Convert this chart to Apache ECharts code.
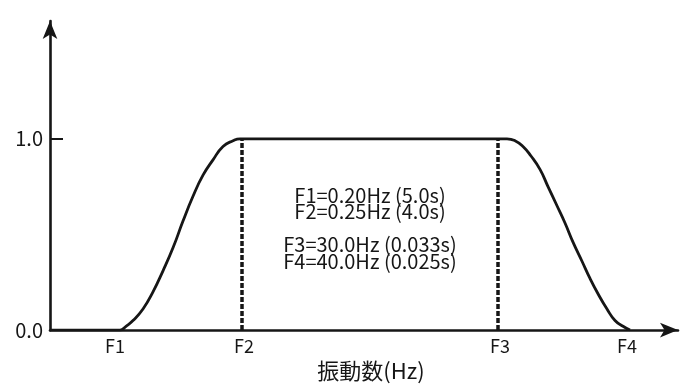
<!DOCTYPE html>
<html>
<head>
<meta charset="utf-8">
<script src="https://cdn.jsdelivr.net/npm/echarts@6/dist/echarts.min.js"></script>
<style>
  html, body { margin: 0; padding: 0; background: #ffffff; }
  #chart { width: 687px; height: 387px; }
</style>
</head>
<body>
<div id="chart"></div>
<script>
// Band-pass window: cosine-like taper from F1 up to F2, flat to F3, taper down to F4.
// Horizontal positions are schematic (frequency axis is not to scale).
const freqPos = [0, 70, 76, 83, 93, 103, 113, 123, 133, 143, 153, 163, 173, 183, 190,
                 457, 465, 473, 481, 490, 498, 507, 515, 523, 532, 540, 548, 557, 565, 573, 580];
const gain    = [0, 0, 0.02, 0.05, 0.11, 0.20, 0.31, 0.43, 0.57, 0.70, 0.81, 0.89, 0.96, 0.99, 1.0,
                 1.0, 0.99, 0.96, 0.91, 0.84, 0.75, 0.65, 0.56, 0.46, 0.36, 0.27, 0.19, 0.11, 0.05, 0.02, 0];

const cornerNames = ['F1', 'F2', 'F3', 'F4'];
const cornerLabelPos = [65, 194, 450, 577];
const guidePos = [192, 448];          // dashed verticals at F2 and F3
const gainTicks = [0, 1];
const noteLines = ['F1=0.20Hz (5.0s)', 'F2=0.25Hz (4.0s)', '', 'F3=30.0Hz (0.033s)', 'F4=40.0Hz (0.025s)'];
const xAxisTitle = '振動数(Hz)';

const ink = '#161616';
const jpFont = "'Noto Sans CJK JP', 'Noto Sans', sans-serif";

const curve = freqPos.map((x, i) => [x, gain[i]]);
const guides = guidePos.map(x => [{ coord: [x, 0] }, { coord: [x, 1] }]);

const chart = echarts.init(document.getElementById('chart'), null, { renderer: 'canvas' });
chart.setOption({
  backgroundColor: '#ffffff',
  animation: false,
  grid: { left: 50, right: 9, top: 21, bottom: 55 },
  xAxis: {
    type: 'value',
    min: 0,
    max: 628,
    splitLine: { show: false },
    axisTick: { show: false },
    axisLine: {
      show: true,
      symbol: ['none', 'arrow'],
      symbolSize: [11, 18],
      lineStyle: { color: ink, width: 2.6 }
    },
    axisLabel: {
      customValues: cornerLabelPos,
      formatter: v => cornerNames[cornerLabelPos.indexOf(v)] || '',
      color: ink,
      fontFamily: jpFont,
      fontSize: 18,
      margin: 7
    },
    name: xAxisTitle,
    nameLocation: 'middle',
    nameGap: 27,
    nameTextStyle: {
      color: ink,
      fontFamily: jpFont,
      fontSize: 22,
      padding: [0, 0, 0, 14]
    }
  },
  yAxis: {
    type: 'value',
    min: 0,
    max: 1.616,
    splitLine: { show: false },
    axisLine: {
      show: true,
      symbol: ['none', 'arrow'],
      symbolSize: [11, 18],
      lineStyle: { color: ink, width: 2.6 }
    },
    axisTick: {
      show: true,
      inside: true,
      customValues: [1],
      length: 13,
      lineStyle: { color: ink, width: 2 }
    },
    axisLabel: {
      customValues: gainTicks,
      formatter: v => v.toFixed(1),
      color: ink,
      fontFamily: jpFont,
      fontSize: 20,
      margin: 7
    }
  },
  graphic: [{
    type: 'text',
    x: 370,
    y: 228,
    style: {
      text: noteLines.join('\n'),
      fill: ink,
      fontFamily: jpFont,
      fontSize: 20,
      lineHeight: 16.5,
      align: 'center',
      verticalAlign: 'middle'
    }
  }],
  series: [{
    type: 'line',
    data: curve,
    smooth: 0.5,
    showSymbol: false,
    lineStyle: { color: ink, width: 2.8 },
    markLine: {
      silent: true,
      symbol: ['none', 'none'],
      label: { show: false },
      lineStyle: { color: ink, width: 3.5, type: [5, 2] },
      data: guides
    }
  }]
});
</script>
</body>
</html>
